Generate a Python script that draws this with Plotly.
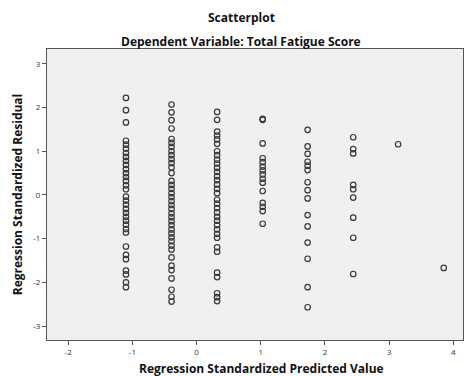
import plotly.graph_objects as go

# Standardized predicted values (one column per predicted level)
pred_levels = [-1.10, -0.39, 0.32, 1.03, 1.73, 2.44, 3.14, 3.85]

# Standardized residuals observed at each predicted level
resid_c1 = [2.22, 1.94, 1.66, 1.24, 1.15, 1.06, 0.96, 0.87, 0.78, 0.69, 0.59, 0.50,
            0.41, 0.32, 0.22, 0.13, -0.04, -0.13, -0.22, -0.32, -0.41, -0.50, -0.59,
            -0.68, -0.78, -0.86, -1.18, -1.37, -1.47, -1.73, -1.82, -2.00, -2.11]
resid_c2 = [2.07, 1.89, 1.71, 1.52, 1.28, 1.19, 1.10, 1.00, 0.91, 0.82, 0.73, 0.63,
            0.50, 0.32, 0.23, 0.14, 0.04, -0.05, -0.14, -0.23, -0.32, -0.42, -0.51,
            -0.60, -0.69, -0.79, -0.88, -0.97, -1.06, -1.16, -1.25, -1.43, -1.62,
            -1.72, -1.91, -2.17, -2.33, -2.44]
resid_c3 = [1.90, 1.72, 1.45, 1.36, 1.27, 1.17, 1.00, 0.91, 0.81, 0.72, 0.62, 0.53,
            0.43, 0.34, 0.24, 0.14, 0.04, -0.11, -0.20, -0.30, -0.40, -0.50, -0.59,
            -0.69, -0.79, -0.89, -0.98, -1.20, -1.30, -1.78, -1.88, -2.25, -2.34, -2.43]
resid_c4 = [1.74, 1.72, 1.18, 0.84, 0.75, 0.65, 0.56, 0.47, 0.37, 0.28, 0.09,
            -0.18, -0.27, -0.37, -0.66]
resid_c5 = [1.49, 1.11, 0.94, 0.76, 0.67, 0.57, 0.29, 0.11, -0.08, -0.46, -0.72,
            -1.09, -1.46, -2.11, -2.57]
resid_c6 = [1.32, 1.05, 0.95, 0.23, 0.13, -0.06, -0.52, -0.98, -1.81]
resid_c7 = [1.16]
resid_c8 = [-1.67]

residual_groups = [resid_c1, resid_c2, resid_c3, resid_c4,
                   resid_c5, resid_c6, resid_c7, resid_c8]

x_vals, y_vals = [], []
for level, group in zip(pred_levels, residual_groups):
    x_vals.extend([level] * len(group))
    y_vals.extend(group)

x_ticks = [-2, -1, 0, 1, 2, 3, 4]
y_ticks = [-3, -2, -1, 0, 1, 2, 3]

fig = go.Figure()
fig.add_trace(go.Scatter(
    x=x_vals, y=y_vals, mode="markers",
    marker=dict(symbol="circle-open", size=5.5, color="#3a3a3a",
                line=dict(width=1.2, color="#3a3a3a")),
    hoverinfo="x+y", showlegend=False,
))

font_family = "Open Sans"
heading_font = dict(family=font_family, size=12, color="#111")

fig.update_layout(
    width=465, height=376,
    margin=dict(l=47, r=2, t=49, b=36),
    paper_bgcolor="white",
    plot_bgcolor="#f0f0f0",
    font=dict(family=font_family, color="#222"),
    xaxis=dict(
        range=[-2.33, 4.15], tickvals=x_ticks, ticktext=[str(t) for t in x_ticks],
        showgrid=False, zeroline=False,
        showline=True, linecolor="#555", linewidth=1, mirror=True,
        ticks="outside", ticklen=4, tickcolor="#555",
        tickfont=dict(size=8, color="#333"),
    ),
    yaxis=dict(
        range=[-3.32, 3.34], tickvals=y_ticks, ticktext=[str(t) for t in y_ticks],
        showgrid=False, zeroline=False,
        showline=True, linecolor="#555", linewidth=1, mirror=True,
        ticks="outside", ticklen=4, tickcolor="#555",
        tickfont=dict(size=8, color="#333"),
        title=dict(text="<b>Regression Standardized Residual</b>",
                   font=heading_font, standoff=8),
    ),
    annotations=[
        dict(text="<b>Scatterplot</b>", xref="paper", yref="paper",
             x=0.5, y=1, xshift=-14, yshift=32, showarrow=False,
             xanchor="center", yanchor="middle", font=heading_font),
        dict(text="<b>Dependent Variable: Total Fatigue Score</b>", xref="paper",
             yref="paper", x=0.5, y=1, xshift=-14, yshift=8, showarrow=False,
             xanchor="center", yanchor="middle", font=heading_font),
        dict(text="<b>Regression Standardized Predicted Value</b>", xref="paper",
             yref="paper", x=0.5, y=0, xshift=6, yshift=-28, showarrow=False,
             xanchor="center", yanchor="middle", font=heading_font),
    ],
)

fig.write_html("out.html")
